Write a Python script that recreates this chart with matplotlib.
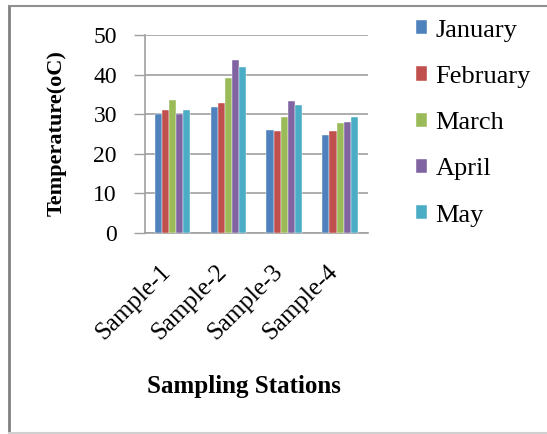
import numpy as np
import matplotlib.pyplot as plt
from matplotlib.lines import Line2D
from matplotlib.transforms import ScaledTranslation

stations = ["Sample-1", "Sample-2", "Sample-3", "Sample-4"]
months = ["January", "February", "March", "April", "May"]
january = [30.0, 31.9, 26.1, 24.8]
february = [31.0, 32.9, 25.7, 25.8]
march = [33.5, 39.1, 29.3, 27.7]
april = [30.0, 43.6, 33.2, 28.1]
may = [31.0, 42.0, 32.2, 29.3]
colors = ["#4F81BD", "#C0504D", "#9BBB59", "#8064A2", "#4BACC6"]

plt.rcParams['font.family'] = ['Liberation Serif', 'DejaVu Serif']

W, H = 547, 434
fig = plt.figure(figsize=(W / 100, H / 100), dpi=100)
ax = fig.add_axes([144.7 / W, 1 - 232.7 / H, (368 - 144.7) / W, (232.7 - 35) / H])

series = [january, february, march, april, may]
x = np.arange(len(stations))
width = 0.128
for i, (vals, name, c) in enumerate(zip(series, months, colors)):
    ax.bar(x + (i - 2) * width, vals, width, color=c, label=name,
           edgecolor='white', linewidth=0.3, zorder=3)

ax.set_xlim(-0.5, len(stations) - 0.5)
ax.set_ylim(0, 50)
ax.set_yticks(range(0, 51, 10))
ax.yaxis.grid(True, color='#a0a0a0', linewidth=1.2, zorder=0)
ax.set_axisbelow(True)
for s in ['top', 'right']:
    ax.spines[s].set_visible(False)
for s in ['left', 'bottom']:
    ax.spines[s].set_color('#a0a0a0')
    ax.spines[s].set_linewidth(1.2)

ax.tick_params(axis='y', length=8, width=1, color='#a0a0a0', pad=12, labelsize=17)
ax.tick_params(axis='x', length=0, pad=6, labelsize=18)
ax.set_xticks(x)
ax.set_xticklabels(stations, rotation=45, ha='right', rotation_mode='anchor')
# push the slanted station names down and to the left
shift = ScaledTranslation(-0.13, -0.2, fig.dpi_scale_trans)
for lab in ax.get_xticklabels():
    lab.set_transform(lab.get_transform() + shift)

fig.text(57 / W, 1 - 133 / H, "Temperature(oC)", rotation=90, ha='center', va='center',
         fontsize=16, fontweight='bold')
fig.text(244 / W, 1 - 386 / H, "Sampling Stations", ha='center', va='center',
         fontsize=18, fontweight='bold')

fig.legend(loc='upper left', bbox_to_anchor=(405 / W, 1 - 9 / H), frameon=False,
           fontsize=19, handlelength=0.45, handleheight=0.45, handletextpad=0.3,
           labelspacing=0.92, borderaxespad=0)

# outer frame of the chart area
fig.add_artist(Line2D([9 / W, 9 / W], [1 - 433 / H, 1 - 6 / H], color='#808080', linewidth=2,
                      transform=fig.transFigure))
fig.add_artist(Line2D([9 / W, 1.0], [1 - 6 / H, 1 - 6 / H], color='#909090', linewidth=1.5,
                      transform=fig.transFigure))
fig.add_artist(Line2D([9 / W, 1.0], [1 - 433 / H, 1 - 433 / H], color='#d0d0d0', linewidth=1.5,
                      transform=fig.transFigure))

fig.savefig("out.png", dpi=100)
